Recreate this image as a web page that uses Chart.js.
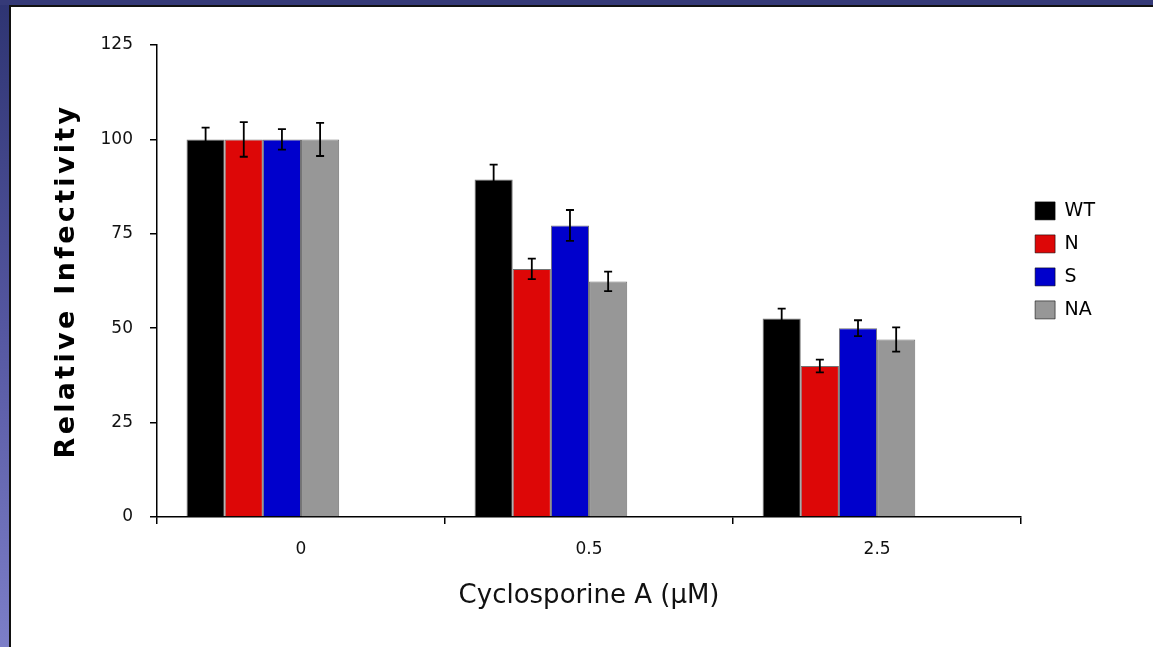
<!DOCTYPE html>
<html>
<head>
<meta charset="utf-8">
<script src="https://cdn.jsdelivr.net/npm/chart.js@4"></script>
<style>
  html, body { margin: 0; padding: 0; background: #fff; overflow: hidden; }
  body { width: 1153px; height: 647px; position: relative; }
  #sideBar { position: absolute; left: 0; top: 0; width: 9px; height: 647px;
    background: linear-gradient(to bottom, #2e3472, #5456a0 50%, #7c7ec8); }
  #topBar { position: absolute; left: 0; top: 0; width: 1153px; height: 5px; background: #353a78; }
  #frame { position: absolute; left: 9px; top: 5px; width: 1144px; height: 642px;
    border-left: 2px solid #111; border-top: 2px solid #111; box-sizing: border-box; }
  #wrap { position: absolute; left: 11px; top: 7px; width: 1142px; height: 640px; }
</style>
</head>
<body>
<div id="sideBar"></div>
<div id="topBar"></div>
<div id="frame"></div>
<div id="wrap"><canvas id="chart"></canvas></div>
<script>
// Cyclosporine A dose vs relative infectivity
const categories = ['0', '0.5', '2.5'];
const wt = [100, 89.4, 52.6];
const wtErr = [3.1, 3.9, 2.6];
const nVals = [100, 65.7, 40.0];
const nErr = [4.6, 2.7, 1.7];
const sVals = [100, 77.2, 50.0];
const sErr = [2.7, 4.1, 2.1];
const naVals = [100, 62.4, 47.0];
const naErr = [4.4, 2.6, 3.2];
const blank = [null, null, null];

const FONT = "'DejaVu Sans', Verdana, sans-serif";

// draws +/- error whiskers on top of each bar
const errorBars = {
    id: 'errorBars',
    afterDatasetsDraw(chart) {
        const ctx = chart.ctx;
        const y = chart.scales.y;
        ctx.save();
        ctx.strokeStyle = '#000';
        ctx.lineWidth = 1.8;
        chart.data.datasets.forEach((ds, i) => {
            if (!ds.errors) return;
            chart.getDatasetMeta(i).data.forEach((bar, j) => {
                const v = ds.data[j], e = ds.errors[j];
                if (v == null) return;
                const top = y.getPixelForValue(v + e);
                const bot = y.getPixelForValue(v - e);
                ctx.beginPath();
                ctx.moveTo(bar.x, top); ctx.lineTo(bar.x, bot);
                ctx.moveTo(bar.x - 4, top); ctx.lineTo(bar.x + 4, top);
                ctx.moveTo(bar.x - 4, bot); ctx.lineTo(bar.x + 4, bot);
                ctx.stroke();
            });
        });
        ctx.restore();
    }
};

// y title is letter-spaced in the original
const spacedTitle = {
    id: 'spacedTitle',
    beforeDraw(chart) {
        const sc = chart.scales.y;
        if (sc._spaced) return;
        const orig = sc.drawTitle;
        sc.drawTitle = function() {
            this.ctx.save();
            this.ctx.letterSpacing = '3.3px';
            orig.call(this);
            this.ctx.restore();
        };
        sc._spaced = true;
    }
};

const mk = (label, data, errors, color) => ({
    label: label, data: data, errors: errors,
    backgroundColor: color, borderColor: 'rgba(0,0,0,0.55)', borderWidth: 1
});

new Chart(document.getElementById('chart'), {
    type: 'bar',
    data: {
        labels: categories,
        datasets: [
            mk('WT', wt, wtErr, '#000000'),
            mk('N', nVals, nErr, '#dd0707'),
            mk('S', sVals, sErr, '#0000cc'),
            mk('NA', naVals, naErr, '#979797'),
            { label: '', data: blank },
            { label: '', data: blank }
        ]
    },
    options: {
        responsive: true, maintainAspectRatio: false,
        animation: false,
        layout: { padding: { top: 38, right: 48, bottom: 0, left: 0 } },
        datasets: { bar: { categoryPercentage: 0.795, barPercentage: 1 } },
        plugins: {
            tooltip: { enabled: false },
            legend: {
                position: 'right', align: 'start', fullSize: false,
                title: { display: true, text: '', padding: { top: 0, bottom: 128 } },
                labels: {
                    color: '#000', boxWidth: 20, boxHeight: 18, padding: 14,
                    font: { family: FONT, size: 19 },
                    filter: item => item.text !== ''
                }
            }
        },
        scales: {
            x: {
                afterFit: s => { s.height = 130; },
                grid: { display: true, drawOnChartArea: false, drawTicks: true, tickLength: 7, color: '#000', lineWidth: 1.5 },
                border: { display: true, color: '#000', width: 1.5 },
                ticks: { color: '#111', padding: 15, font: { family: FONT, size: 17 } },
                title: { display: true, text: 'Cyclosporine A (μM)', color: '#111',
                    font: { family: FONT, size: 26 }, padding: { top: 0, bottom: 35 } }
            },
            y: {
                min: 0, max: 125,
                afterFit: s => { s.width = 146; },
                grid: { display: true, drawOnChartArea: false, drawTicks: true, tickLength: 7, color: '#000', lineWidth: 1.5 },
                border: { display: true, color: '#000', width: 1.5 },
                ticks: { stepSize: 25, color: '#111', padding: 17, font: { family: FONT, size: 17 } },
                title: { display: true, text: 'Relative Infectivity', color: '#000',
                    font: { family: FONT, size: 27, weight: 'bold' }, padding: { top: 40, bottom: 0 } }
            }
        }
    },
    plugins: [errorBars, spacedTitle]
});
</script>
</body>
</html>
